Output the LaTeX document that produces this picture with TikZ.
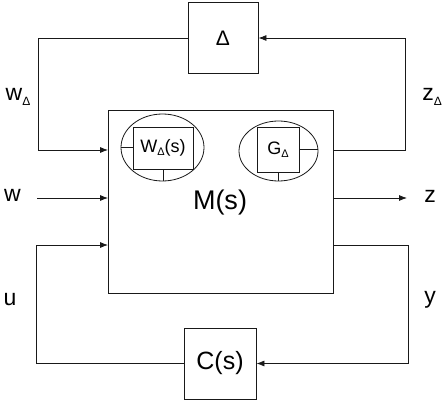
\documentclass[tikz,border=0pt]{standalone}
\usepackage{fontspec}
\setmainfont{Liberation Sans}
\usetikzlibrary{
  arrows,
  arrows.meta,
  shapes.geometric,
  positioning
}

\begin{document}
\begin{tikzpicture}[
      x=1pt,y=-1pt,
      block/.style={
         rectangle,
         draw=black!90,
         line width=0.8pt,
         inner sep=0pt
      },
      inner block/.style={
         block,
         font=\fontsize{18}{18}\selectfont
      },
      oval/.style={
         ellipse,
         draw=black!90,
         line width=0.8pt,
         inner sep=0pt
      },
      signal/.style={font=\fontsize{23}{23}\selectfont},
      point/.style={coordinate},>={Latex[length=8pt,width=6pt]},
      line width=0.8pt,draw=black!90,
      tip/.style={->,shorten >=0.007pt}
    ]
    \useasboundingbox (0,0) rectangle (446,403);
    % blocks
    \node (delta) [block, minimum width=70, minimum height=71,
       font=\fontsize{21}{21}\selectfont] at (223,38) {Δ};
    \node (plant) [block, minimum width=225, minimum height=183] at (221,201.5) {};
    \node (plantlbl) [font=\fontsize{27}{27}\selectfont] at (220,203) {M(s)};
    \node (ctrl) [block, minimum width=72, minimum height=71,
       font=\fontsize{25}{25}\selectfont] at (220,363.5) {C(s)};
    % weights inside M(s)
    \node (wov) [oval, minimum width=83, minimum height=67] at (162.5,147.5) {};
    \node (wbox) [inner block, minimum width=60, minimum height=42] at (163,148)
       {W\raisebox{-0.35ex}{\fontsize{11}{11}\selectfont Δ}(s)};
    \node (gov) [oval, minimum width=79, minimum height=60] at (278.5,151) {};
    \node (gbox) [inner block, minimum width=42, minimum height=45] at (278,149.5)
       {G\raisebox{-0.35ex}{\fontsize{11}{11}\selectfont Δ}};
    \draw (wov.west) -- (wov.west -| wbox.west);
    \draw (wbox.south) -- (wbox.south |- wov.south);
    \draw (gbox.east) -- (gbox.east -| gov.east);
    \draw (gbox.south) -- (gbox.south |- gov.south);
    % corners of the loops
    \node (n1) [point] at (38,150) {};
    \node (n2) [point] at (405,150) {};
    \node (n3) [point] at (37,198) {};
    \node (n4) [point] at (407,198) {};
    \node (n5) [point] at (36,245) {};
    \node (n6) [point] at (408,245) {};
    % signals
    \draw [tip] (delta.west) -| (n1) -- (n1 -| plant.west);
    \draw [tip] (n2 -| plant.east) -- (n2) |- (delta.east);
    \draw [tip] (n3) -- (n3 -| plant.west);
    \draw [tip] (n4 -| plant.east) -- (n4);
    \draw [tip] (ctrl.west) -| (n5) -- (n5 -| plant.west);
    \draw [tip] (n6 -| plant.east) -- (n6) |- (ctrl.east);
    % labels
    \node (lwd) [signal] at (18,97) {w\raisebox{-0.35ex}{\fontsize{12}{12}\selectfont Δ}};
    \node (lzd) [signal] at (432,97) {z\raisebox{-0.35ex}{\fontsize{12}{12}\selectfont Δ}};
    \node (lw) [signal] at (12.5,195) {w};
    \node (lz) [signal] at (430,196) {z};
    \node (lu) [signal] at (10,300) {u};
    \node (ly) [signal] at (430,300) {y};
\end{tikzpicture}
\end{document}
